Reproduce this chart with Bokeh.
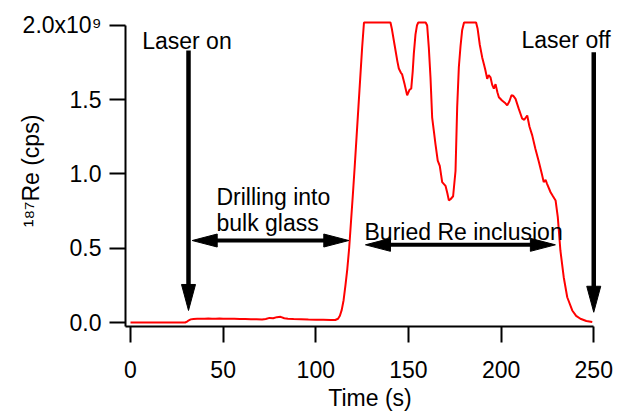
import math
from bokeh.plotting import figure
from bokeh.models import Range1d, FixedTicker, CustomJSTickFormatter, Label
from bokeh.embed import file_html
from bokeh.resources import INLINE

# ---- data: 187Re signal (units of 10^9 cps) vs time (s) ----
time_s = [
    0, 29.5, 30.5, 31.5, 32.5, 34, 36, 38, 40, 42,
    44, 46, 48, 50, 53, 56, 59, 62, 65, 68,
    71, 73, 75, 77, 79, 81, 83, 85, 88, 92,
    96, 100, 104, 108, 110.5, 112, 113, 114, 115, 116,
    117, 118, 119, 120, 121, 122, 123, 124, 125, 126,
    140.3, 141, 142.5, 144, 144.8, 146, 146.6, 148, 149.3, 150.5,
    151.5, 152.3, 152.9, 153.8, 154.6, 155.3, 159.3, 160.1, 161.0, 161.9,
    162.8, 163.7, 164.6, 165.8, 166.9, 168.2, 170, 171, 171.8, 172.7,
    174.1, 175.4, 176.3, 177.2, 178.1, 179, 180, 186.5, 187.3, 188.5,
    189.8, 190.7, 191.5, 192.5, 193.3, 194.3, 195.2, 196.1, 197, 198,
    198.8, 200.5, 202, 203.3, 204.5, 205.6, 206.5, 207.8, 209.5, 211.4,
    212.5, 214.1, 215.3, 216.8, 218.5, 220.4, 222, 223, 224, 224.8,
    226.7, 228, 229.4, 230.6, 232, 233.8, 235.7, 238.4, 240.5, 242.8,
    246, 249.2,
]
re187 = [
    0.0, 0.0, 0.006, 0.015, 0.021, 0.024, 0.025, 0.026, 0.025, 0.027,
    0.026, 0.025, 0.027, 0.026, 0.025, 0.026, 0.024, 0.023, 0.022, 0.022,
    0.021, 0.024, 0.031, 0.029, 0.036, 0.038, 0.029, 0.026, 0.024, 0.022,
    0.020, 0.019, 0.018, 0.017, 0.017, 0.025, 0.045, 0.085, 0.15, 0.25,
    0.36, 0.50, 0.68, 0.86, 1.05, 1.25, 1.45, 1.65, 1.85, 2.02,
    2.02, 1.98, 1.87, 1.76, 1.71, 1.68, 1.67, 1.60, 1.53, 1.565,
    1.575, 1.69, 1.81, 1.94, 2.00, 2.02, 2.02, 2.00, 1.85, 1.65,
    1.38, 1.29, 1.20, 1.09, 1.055, 0.945, 0.92, 0.87, 0.822, 0.83,
    0.85, 1.02, 1.45, 1.72, 1.86, 1.97, 2.02, 2.02, 1.98, 1.87,
    1.785, 1.74, 1.70, 1.64, 1.665, 1.65, 1.60, 1.575, 1.605, 1.55,
    1.517, 1.495, 1.48, 1.462, 1.49, 1.53, 1.527, 1.506, 1.44, 1.372,
    1.365, 1.394, 1.32, 1.26, 1.17, 1.08, 1.00, 0.945, 0.96, 0.934,
    0.877, 0.85, 0.822, 0.71, 0.485, 0.305, 0.17, 0.081, 0.045, 0.025,
    0.010, 0.003,
]
assert len(time_s) == len(re187)

x_ticks = [0, 50, 100, 150, 200, 250]
y_ticks = [0.0, 0.5, 1.0, 1.5, 2.0]
x_title = "Time (s)"
y_title = "\u00b9\u2078\u2077Re (cps)"
top_tick_label = "2.0x10\u2079"

# annotation anchors (data units)
vert_arrow_t = [31.3, 250.0]        # laser on / laser off
vert_arrow_top = [1.832, 1.82]
vert_arrow_tip = [0.081, 0.069]
horiz_arrow_t0 = [33.3, 126.8]      # drilling / buried inclusion
horiz_arrow_t1 = [117.8, 229.3]
horiz_arrow_v = [0.552, 0.523]

X_START, X_END = -2.70, 261.2
Y_START, Y_END = -0.0269, 2.067
FRAME_W, FRAME_H = 489, 311
SX = FRAME_W / (X_END - X_START)
SY = FRAME_H / (Y_END - Y_START)

FONT = "Liberation Sans"
FS = "23px"

p = figure(width=621, height=413, output_backend="svg", toolbar_location=None,
           x_range=Range1d(X_START, X_END), y_range=Range1d(Y_START, Y_END),
           min_border_left=125, min_border_right=7, min_border_top=15,
           min_border_bottom=87)
p.outline_line_color = None
p.grid.visible = False
p.background_fill_color = "white"
p.border_fill_color = "white"

for ax in (p.xaxis[0], p.yaxis[0]):
    ax.axis_line_width = 2
    ax.major_tick_line_width = 2
    ax.major_tick_out = 16
    ax.major_tick_in = 0
    ax.minor_tick_line_color = None
    ax.major_label_text_font = FONT
    ax.major_label_text_font_size = FS
    ax.major_label_text_color = "black"
    ax.axis_label_text_font = FONT
    ax.axis_label_text_font_size = FS
    ax.axis_label_text_font_style = "normal"
    ax.axis_label_text_color = "black"

p.xaxis.ticker = FixedTicker(ticks=x_ticks)
p.xaxis.bounds = (X_START, 250)
p.xaxis.major_label_standoff = 18
p.xaxis.axis_label = x_title
p.xaxis.axis_label_standoff = 4

p.yaxis.ticker = FixedTicker(ticks=y_ticks)
p.yaxis.bounds = (Y_START, 2.0)
p.yaxis.major_label_standoff = 8
p.yaxis.formatter = CustomJSTickFormatter(
    args=dict(top=top_tick_label),
    code="return Math.abs(tick - 2) < 1e-9 ? top : tick.toFixed(1);")
p.yaxis.axis_label = y_title
p.yaxis.axis_label_standoff = -24

# signal
p.line(time_s, re187, line_color="#ff0000", line_width=2)

# vertical arrows
VL, VW = 26, 14
for t, top, tip in zip(vert_arrow_t, vert_arrow_top, vert_arrow_tip):
    p.segment(x0=[t], y0=[top], x1=[t], y1=[tip + 0.8 * VL / SY],
              line_color="black", line_width=4.5)
    p.patch([t - VW / 2 / SX, t + VW / 2 / SX, t],
            [tip + VL / SY, tip + VL / SY, tip],
            fill_color="black", line_color="black", line_width=1)

# horizontal double arrows
HL, HW = 25, 13
for t0, t1, v in zip(horiz_arrow_t0, horiz_arrow_t1, horiz_arrow_v):
    p.segment(x0=[t0 + 0.8 * HL / SX], y0=[v], x1=[t1 - 0.8 * HL / SX], y1=[v],
              line_color="black", line_width=4)
    p.patch([t0, t0 + HL / SX, t0 + HL / SX],
            [v, v + HW / 2 / SY, v - HW / 2 / SY],
            fill_color="black", line_color="black", line_width=1)
    p.patch([t1, t1 - HL / SX, t1 - HL / SX],
            [v, v + HW / 2 / SY, v - HW / 2 / SY],
            fill_color="black", line_color="black", line_width=1)


def lab(text, x, y, size=FS, align="left"):
    p.add_layout(Label(x=x, y=y, text=text, text_font=FONT, text_font_size=size,
                       text_color="black", text_align=align,
                       text_baseline="alphabetic"))


lab("Laser on", 6.3, 1.892)
lab("Laser off", 211.0, 1.904)
lab("Drilling into", 46.4, 0.848)
lab("bulk glass", 46.4, 0.669)
lab("Buried Re inclusion", 126.3, 0.608)

open("out.html", "w").write(file_html(p, INLINE))
